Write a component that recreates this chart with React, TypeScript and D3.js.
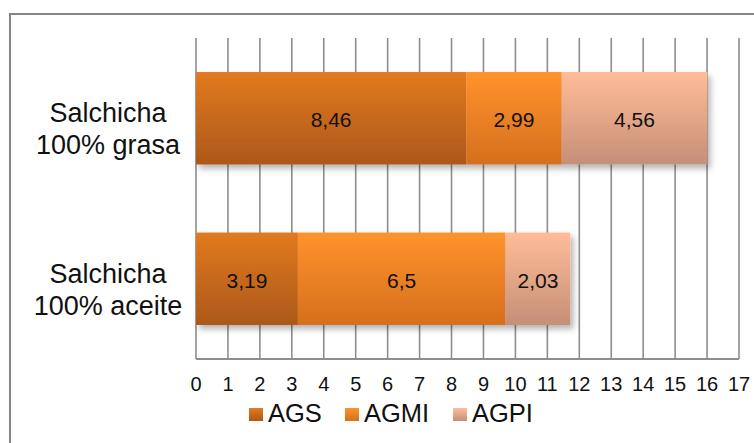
import React from "react";
import * as d3 from "d3";

// Fatty-acid profile of two sausage formulations (stacked horizontal bars)
const categories = ["Salchicha\n100% grasa", "Salchicha\n100% aceite"];
const seriesNames = ["AGS", "AGMI", "AGPI"];
const agsValues = [8.46, 3.19];
const agmiValues = [2.99, 6.5];
const agpiValues = [4.56, 2.03];
const xTicks = d3.range(0, 18);

// Vertical gradient stops (top, bottom) for each series
const seriesColors: [string, string][] = [
  ["#E27A20", "#AC5819"],
  ["#FF932C", "#D56F1D"],
  ["#FFBD98", "#C68F78"],
];

const W = 754;
const H = 443;
const FONT = "'Liberation Sans', Arial, Helvetica, sans-serif";

export default function App() {
  const seriesValues = [agsValues, agmiValues, agpiValues];
  const rows = categories.map((c, i) => {
    const obj: Record<string, number | string> = { cat: c };
    seriesNames.forEach((s, j) => (obj[s] = seriesValues[j][i]));
    return obj;
  });
  const stacked = d3.stack<any>().keys(seriesNames)(rows as any);

  const x = d3.scaleLinear().domain([0, 17]).range([196, 739]);
  const y = d3
    .scaleBand<string>()
    .domain(categories)
    .range([38, 359])
    .paddingInner(0.424)
    .paddingOuter(0.212);

  const fmt = (v: number) => String(v).replace(".", ",");
  const gridColor = "#8e8e8e";

  return (
    <svg
      width={W}
      height={H}
      style={{ position: "absolute", left: 0, top: 0, background: "#fff" }}
      fontFamily={FONT}
    >
      <defs>
        {seriesColors.map((c, i) => (
          <linearGradient key={i} id={`grad${i}`} x1="0" y1="0" x2="0" y2="1">
            <stop offset="0%" stopColor={c[0]} />
            <stop offset="100%" stopColor={c[1]} />
          </linearGradient>
        ))}
        <filter id="shadow" x="-10%" y="-20%" width="130%" height="160%">
          <feDropShadow dx="3" dy="4" stdDeviation="3" floodColor="#000" floodOpacity="0.3" />
        </filter>
      </defs>

      <rect x={0} y={0} width={W} height={H} fill="#fff" />
      {/* chart frame */}
      <rect x={10} y={14} width={W + 20} height={H + 20} fill="none" stroke="#868686" strokeWidth={2} />

      {/* vertical gridlines */}
      {xTicks.map((t) => (
        <line
          key={t}
          x1={x(t)}
          x2={x(t)}
          y1={38}
          y2={359}
          stroke={gridColor}
          strokeWidth={1.6}
        />
      ))}
      <line x1={x(0)} x2={x(17)} y1={359} y2={359} stroke={gridColor} strokeWidth={2} />

      {/* stacked bars */}
      {categories.map((c, ci) => (
        <g key={c} filter="url(#shadow)">
          {stacked.map((s, si) => {
            const d = s[ci];
            return (
              <rect
                key={si}
                x={x(d[0])}
                y={y(c)!}
                width={x(d[1]) - x(d[0])}
                height={y.bandwidth()}
                fill={`url(#grad${si})`}
              />
            );
          })}
        </g>
      ))}

      {/* value labels */}
      {categories.map((c, ci) =>
        stacked.map((s, si) => {
          const d = s[ci];
          return (
            <text
              key={`${ci}-${si}`}
              x={(x(d[0]) + x(d[1])) / 2}
              y={y(c)! + y.bandwidth() / 2 + 9}
              textAnchor="middle"
              fontSize={21}
              fill="#111"
            >
              {fmt(seriesValues[si][ci])}
            </text>
          );
        })
      )}

      {/* category labels */}
      {categories.map((c) => {
        const cy = y(c)! + y.bandwidth() / 2;
        return (
          <text key={c} textAnchor="middle" fontSize={27} fill="#111">
            {c.split("\n").map((line, li) => (
              <tspan key={li} x={108} y={cy + 4 + li * 32}>
                {line}
              </tspan>
            ))}
          </text>
        );
      })}

      {/* x axis tick labels */}
      {xTicks.map((t) => (
        <text key={t} x={x(t)} y={391} textAnchor="middle" fontSize={20} fill="#111">
          {t}
        </text>
      ))}

      {/* legend */}
      {seriesNames.map((s, i) => {
        const lx = [249, 345, 453][i];
        return (
          <g key={s}>
            <rect x={lx} y={408} width={14} height={13} fill={`url(#grad${i})`} />
            <text x={lx + 19} y={421.5} fontSize={25.5} fill="#111">
              {s}
            </text>
          </g>
        );
      })}
    </svg>
  );
}
